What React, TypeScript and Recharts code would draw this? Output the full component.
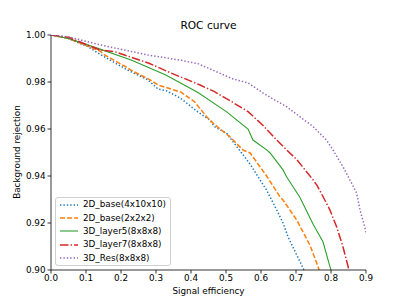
import React from 'react';
import { LineChart, Line, XAxis, YAxis, Legend, Label } from 'recharts';

const xTicks = [0, 0.1, 0.2, 0.3, 0.4, 0.5, 0.6, 0.7, 0.8, 0.9];
const yTicks = [0.9, 0.92, 0.94, 0.96, 0.98, 1.0];

const seriesNames = [
  '2D_base(4x10x10)',
  '2D_base(2x2x2)',
  '3D_layer5(8x8x8)',
  '3D_layer7(8x8x8)',
  '3D_Res(8x8x8)',
];

const base4x10x10X = [0, 0.05, 0.106, 0.14, 0.21, 0.234, 0.277, 0.306, 0.331, 0.371, 0.42, 0.454, 0.467, 0.503, 0.52, 0.569, 0.616, 0.645, 0.663, 0.677, 0.691, 0.72, 0.723];
const base4x10x10Y = [1.0, 0.9985, 0.995, 0.9918, 0.9858, 0.984, 0.9809, 0.977, 0.9762, 0.973, 0.9672, 0.9638, 0.961, 0.958, 0.9546, 0.945, 0.934, 0.9255, 0.92, 0.9142, 0.9098, 0.9009, 0.9];

const base2x2x2X = [0, 0.05, 0.14, 0.153, 0.217, 0.229, 0.283, 0.306, 0.371, 0.41, 0.446, 0.463, 0.48, 0.511, 0.549, 0.569, 0.616, 0.654, 0.663, 0.702, 0.74, 0.763, 0.766];
const base2x2x2Y = [1.0, 0.9985, 0.9932, 0.9915, 0.9862, 0.985, 0.9809, 0.9787, 0.9757, 0.9716, 0.965, 0.9625, 0.9604, 0.9567, 0.951, 0.9498, 0.94, 0.9312, 0.9298, 0.9213, 0.9105, 0.9014, 0.9];

const layer5X = [0, 0.05, 0.134, 0.229, 0.328, 0.42, 0.503, 0.531, 0.563, 0.577, 0.617, 0.626, 0.663, 0.673, 0.711, 0.749, 0.777, 0.797, 0.8];
const layer5Y = [1.0, 0.9985, 0.9943, 0.9894, 0.983, 0.9755, 0.9672, 0.9638, 0.96, 0.9553, 0.951, 0.9498, 0.9426, 0.9397, 0.931, 0.9195, 0.912, 0.9014, 0.9];

const layer7X = [0, 0.05, 0.14, 0.182, 0.28, 0.343, 0.391, 0.426, 0.467, 0.514, 0.563, 0.606, 0.645, 0.674, 0.702, 0.749, 0.76, 0.787, 0.797, 0.816, 0.834, 0.849, 0.851];
const layer7Y = [1.0, 0.999, 0.9936, 0.9929, 0.988, 0.9838, 0.9809, 0.9787, 0.9759, 0.9718, 0.9674, 0.9615, 0.9553, 0.951, 0.947, 0.9383, 0.936, 0.9285, 0.9255, 0.9184, 0.91, 0.9014, 0.9];

const resX = [0, 0.05, 0.14, 0.277, 0.369, 0.42, 0.52, 0.563, 0.606, 0.634, 0.673, 0.749, 0.787, 0.806, 0.834, 0.854, 0.873, 0.883, 0.897, 0.9];
const resY = [1.0, 0.9992, 0.9958, 0.9915, 0.9893, 0.9878, 0.9813, 0.9796, 0.9753, 0.9728, 0.9695, 0.961, 0.9553, 0.951, 0.944, 0.9383, 0.9328, 0.9255, 0.918, 0.916];

const seriesX = [base4x10x10X, base2x2x2X, layer5X, layer7X, resX];
const seriesY = [base4x10x10Y, base2x2x2Y, layer5Y, layer7Y, resY];

const styles = [
  { color: '#1f77b4', width: 1.5, dash: '1.4 2.0' },
  { color: '#ff7f0e', width: 1.5, dash: '5 2.1' },
  { color: '#2ca02c', width: 1.1, dash: undefined },
  { color: '#d62728', width: 1.5, dash: '8.5 2.1 1.4 2.1' },
  { color: '#9467bd', width: 1.5, dash: '1.4 2.0' },
];

const series = seriesNames.map((name, i) => ({
  name,
  data: seriesX[i].map((x, j) => ({ x, y: seriesY[i][j] })),
  ...styles[i],
}));

const FONT = '"DejaVu Sans", sans-serif';
const tickStyle = { fill: '#000', fontSize: 8.8, fontFamily: FONT };

const LegendBox = () => (
  <div
    style={{
      boxSizing: 'border-box',
      width: 116,
      height: 69,
      border: '1px solid #d0d0d0',
      borderRadius: 3,
      background: 'rgba(255,255,255,0.8)',
      padding: '0px 0 0 3px',
      fontFamily: FONT,
      fontSize: 8.8,
      color: '#000',
    }}
  >
    {series.map((s) => (
      <div key={s.name} style={{ display: 'flex', alignItems: 'center', height: 13.4, marginTop: 0 }}>
        <svg width={20} height={10} style={{ display: 'block' }}>
          <line x1={1} y1={5} x2={19} y2={5} stroke={s.color} strokeWidth={s.width} strokeDasharray={s.dash} />
        </svg>
        <span style={{ marginLeft: 4, whiteSpace: 'nowrap', lineHeight: '13px' }}>{s.name}</span>
      </div>
    ))}
  </div>
);

export default function App() {
  return (
    <div style={{ position: 'absolute', left: 0, top: 0, width: 407, height: 304, background: '#fff' }}>
      <div
        style={{
          position: 'absolute',
          left: 51,
          width: 315,
          top: 18,
          textAlign: 'center',
          fontFamily: FONT,
          fontSize: 10.6,
          lineHeight: '14px',
          color: '#000',
        }}
      >
        ROC curve
      </div>
      <LineChart width={407} height={304} margin={{ top: 35, right: 41, left: 0, bottom: 0 }}>
        <XAxis
          dataKey="x"
          type="number"
          domain={[0, 0.9]}
          ticks={xTicks}
          allowDataOverflow
          height={34}
          tickSize={3.5}
          tickMargin={1.5}
          tick={tickStyle}
          tickFormatter={(v: number) => v.toFixed(1)}
          axisLine={{ stroke: '#000', strokeWidth: 0.8 }}
          tickLine={{ stroke: '#000', strokeWidth: 0.8 }}
          interval={0}
        >
          <Label
            content={() => (
              <text x={208.5} y={294} textAnchor="middle" fontSize={8.8} fontFamily={FONT} fill="#000">
                Signal efficiency
              </text>
            )}
          />
        </XAxis>
        <XAxis
          xAxisId="top"
          dataKey="x"
          type="number"
          orientation="top"
          domain={[0, 0.9]}
          height={0}
          tick={false}
          tickLine={false}
          axisLine={{ stroke: '#000', strokeWidth: 0.8 }}
        />
        <YAxis
          type="number"
          domain={[0.9, 1.0]}
          ticks={yTicks}
          allowDataOverflow
          width={51}
          tickSize={3.5}
          tickMargin={2}
          tick={tickStyle}
          tickFormatter={(v: number) => v.toFixed(2)}
          axisLine={{ stroke: '#000', strokeWidth: 0.8 }}
          tickLine={{ stroke: '#000', strokeWidth: 0.8 }}
          interval={0}
        >
          <Label
            content={() => (
              <text
                x={17}
                y={152}
                transform="rotate(-90 17 152)"
                textAnchor="middle"
                dominantBaseline="central"
                fontSize={8.8}
                fontFamily={FONT}
                fill="#000"
              >
                Background rejection
              </text>
            )}
          />
        </YAxis>
        <YAxis
          yAxisId="right"
          orientation="right"
          type="number"
          domain={[0.9, 1.0]}
          width={0}
          tick={false}
          tickLine={false}
          axisLine={{ stroke: '#000', strokeWidth: 0.8 }}
        />
        {series.map((s) => (
          <Line
            key={s.name}
            data={s.data}
            dataKey="y"
            name={s.name}
            type="linear"
            stroke={s.color}
            strokeWidth={s.width}
            strokeDasharray={s.dash}
            dot={false}
            activeDot={false}
            isAnimationActive={false}
          />
        ))}
        <Legend
          layout="vertical"
          align="center"
          verticalAlign="middle"
          wrapperStyle={{ left: 55, top: 197, width: 116, height: 69 }}
          content={() => <LegendBox />}
        />
      </LineChart>
    </div>
  );
}
